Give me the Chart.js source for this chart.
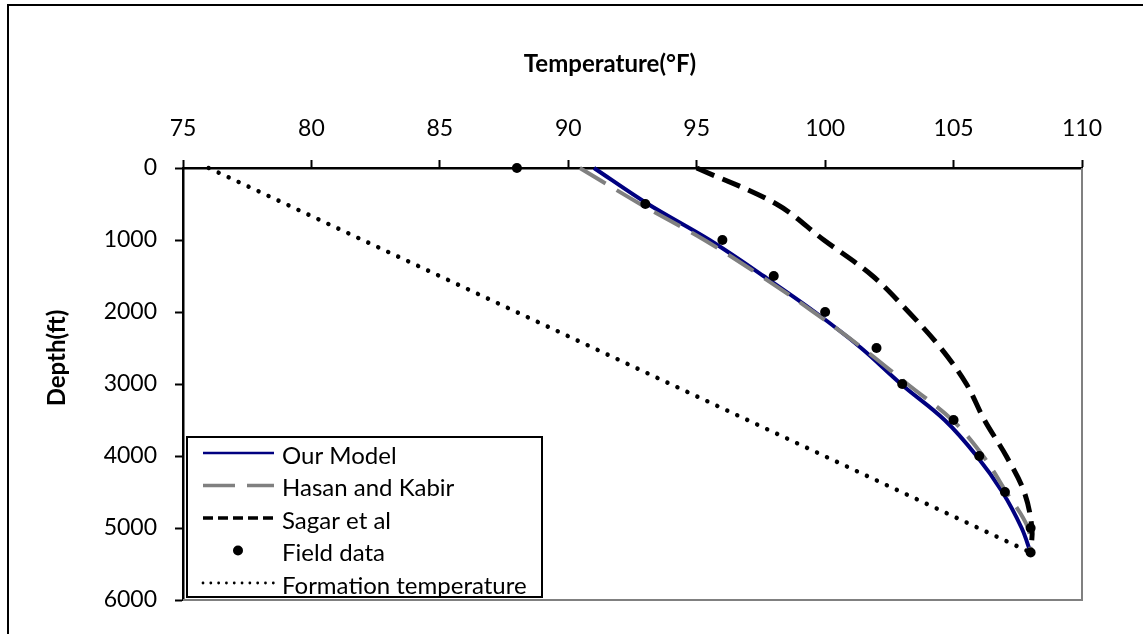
<html>
<head>
<meta http-equiv="Content-Type" content="text/html; charset=utf-8"/>
<title>Temperature profile</title>
<script src="https://cdn.jsdelivr.net/npm/chart.js@4.4.1/dist/chart.umd.min.js"></script>
<style>
  body { margin: 0; background: #fff; }
  #wrap { width: 1143px; height: 634px; position: relative; }
</style>
</head>
<body>
<div id="wrap"><canvas id="grafica"></canvas></div>
<script>
// depths (ft) where every curve and the field readings are given
var depthFt = [0, 500, 1000, 1500, 2000, 2500, 3000, 3500, 4000, 4500, 5000, 5340];
var fieldTemp = [88, 93, 96, 98, 100, 102, 103, 105, 106, 107, 108, 108];
var modelTemp = [91.0, 93.1, 95.5, 97.6, 99.6, 101.4, 102.95, 104.65, 105.9, 106.9, 107.65, 108.0];
var hasanTemp = [90.45, 92.8, 95.3, 97.5, 99.55, 101.45, 103.2, 104.95, 106.15, 107.05, 107.9, 108.0];
var sagarTemp = [95.0, 98.1, 99.95, 101.85, 103.25, 104.5, 105.5, 106.2, 107.05, 107.75, 108.05, 108.0];
// geothermal gradient, surface to bottom hole
var formationTemp = [76, 108];
var formationDepth = [0, 5340];

var tempTicks = [75, 80, 85, 90, 95, 100, 105, 110];
var depthTicks = [0, 1000, 2000, 3000, 4000, 5000, 6000];

var pares = (xs, ys) => xs.map((x, i) => ({x: x, y: ys[i]}));

// how each series looks in the legend box
var estiloLeyenda = [
  {width: 2.7, dash: []},
  {width: 3.3, dash: [32, 12]},
  {width: 3.3, dash: [10, 5]},
  {dot: true},
  {width: 2.8, dash: [0.01, 7.8], cap: 'round'}
];

var adornos = {
  id: 'adornos',
  beforeDatasetsDraw(chart) {
    var ctx = chart.ctx, a = chart.chartArea;
    ctx.save();
    ctx.strokeStyle = '#808080';
    ctx.lineWidth = 2;
    ctx.beginPath();
    ctx.moveTo(a.right, a.top);
    ctx.lineTo(a.right, a.bottom);
    ctx.lineTo(a.left, a.bottom);
    ctx.stroke();
    ctx.restore();
  },
  afterDraw(chart) {
    var ctx = chart.ctx;
    ctx.save();
    // outer frame
    ctx.strokeStyle = '#000';
    ctx.lineWidth = 2;
    ctx.beginPath();
    ctx.moveTo(8, chart.height);
    ctx.lineTo(8, 5);
    ctx.lineTo(chart.width, 5);
    ctx.stroke();

    // axis titles
    ctx.fillStyle = '#000';
    ctx.font = 'bold 24px Lato';
    ctx.textAlign = 'center';
    ctx.textBaseline = 'middle';
    ctx.fillText('Temperature(°F)', 610, 64);
    ctx.save();
    ctx.translate(57, 358);
    ctx.rotate(-Math.PI / 2);
    ctx.fillText('Depth(ft)', 0, 0);
    ctx.restore();

    // legend
    var lx = 187, ly = 437, lw = 355, lh = 160;
    ctx.fillStyle = '#fff';
    ctx.fillRect(lx, ly, lw, lh);
    ctx.strokeStyle = '#000';
    ctx.lineWidth = 2;
    ctx.strokeRect(lx, ly, lw, lh);
    ctx.font = '24px Lato';
    ctx.textAlign = 'left';
    chart.data.datasets.forEach((ds, i) => {
      var st = estiloLeyenda[i];
      var y = 453 + i * 32.5;
      if (st.dot) {
        ctx.fillStyle = ds.backgroundColor;
        ctx.beginPath();
        ctx.arc(238, y, 5, 0, Math.PI * 2);
        ctx.fill();
      } else {
        ctx.strokeStyle = ds.borderColor;
        ctx.lineWidth = st.width;
        ctx.setLineDash(st.dash);
        ctx.lineCap = st.cap || 'butt';
        ctx.beginPath();
        ctx.moveTo(203, y);
        ctx.lineTo(274, y);
        ctx.stroke();
        ctx.setLineDash([]);
        ctx.lineCap = 'butt';
      }
      ctx.fillStyle = '#000';
      ctx.fillText(ds.label, 282, y + 3);
    });
    ctx.restore();
  }
};

Chart.defaults.font.family = 'Lato';
Chart.defaults.color = '#000';

var contenedor = document.getElementById('grafica');
var grafica = new Chart(contenedor, {
  type: 'scatter',
  data: {
    datasets: [
      {
        label: 'Our Model',
        data: pares(modelTemp, depthFt),
        showLine: true,
        borderColor: '#000080',
        borderWidth: 4,
        pointRadius: 0,
        tension: 0.35,
        clip: false,
        order: 3
      },
      {
        label: 'Hasan and Kabir',
        data: pares(hasanTemp, depthFt),
        showLine: true,
        borderColor: '#808080',
        borderWidth: 4,
        borderDash: [30, 13],
        pointRadius: 0,
        tension: 0.35,
        clip: false,
        order: 2
      },
      {
        label: 'Sagar et al',
        data: pares(sagarTemp, depthFt),
        showLine: true,
        borderColor: '#000',
        borderWidth: 5,
        borderDash: [19, 9],
        pointRadius: 0,
        tension: 0.35,
        clip: false,
        order: 1
      },
      {
        label: 'Field data',
        data: pares(fieldTemp, depthFt),
        showLine: false,
        backgroundColor: '#000',
        borderWidth: 0,
        pointRadius: 5,
        clip: false,
        order: 0
      },
      {
        label: 'Formation temperature',
        data: pares(formationTemp, formationDepth),
        showLine: true,
        borderColor: '#000',
        borderWidth: 4.5,
        borderDash: [0.01, 11],
        borderCapStyle: 'round',
        pointRadius: 0,
        clip: false,
        order: 4
      }
    ]
  },
  options: {
    responsive: true,
    maintainAspectRatio: false,
    animation: false,
    devicePixelRatio: 1,
    layout: {padding: {left: 0, top: 0, right: 61, bottom: 34}},
    plugins: {
      legend: {display: false},
      tooltip: {enabled: false}
    },
    scales: {
      x: {
        type: 'linear',
        position: 'top',
        min: tempTicks[0],
        max: tempTicks[tempTicks.length - 1],
        afterBuildTicks: (s) => { s.ticks = tempTicks.map(v => ({value: v})); },
        afterFit: (s) => { s.height = 168; },
        ticks: {font: {size: 23}, padding: 18, maxRotation: 0, callback: (v) => String(v)},
        grid: {drawOnChartArea: false, tickLength: 8, tickColor: '#000', tickWidth: 2},
        border: {display: true, color: '#000', width: 2.5}
      },
      y: {
        type: 'linear',
        reverse: true,
        min: depthTicks[0],
        max: depthTicks[depthTicks.length - 1],
        afterBuildTicks: (s) => { s.ticks = depthTicks.map(v => ({value: v})); },
        afterFit: (s) => { s.width = 183; },
        ticks: {font: {size: 23}, padding: 18, callback: (v) => String(v)},
        grid: {drawOnChartArea: false, tickLength: 8, tickColor: '#000', tickWidth: 2},
        border: {display: true, color: '#000', width: 2.5}
      }
    }
  },
  plugins: [adornos]
});
</script>
</body>
</html>
